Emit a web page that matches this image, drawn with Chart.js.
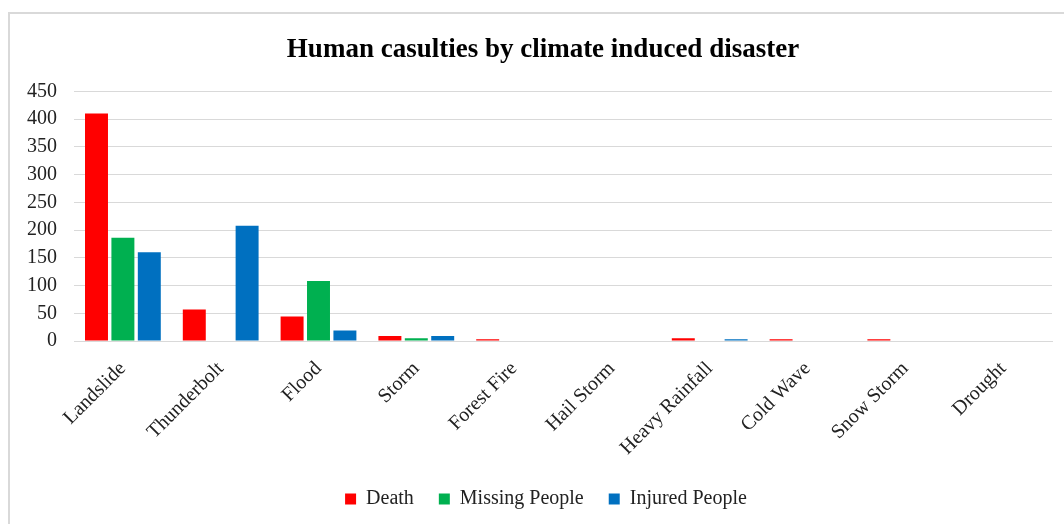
<!DOCTYPE html>
<html>
<head>
<meta charset="utf-8">
<script src="https://cdn.jsdelivr.net/npm/chart.js@4.4.1/dist/chart.umd.min.js"></script>
<style>
  html, body { margin: 0; padding: 0; background: #ffffff; }
  #wrap { position: relative; width: 1064px; height: 524px; overflow: hidden; }
  #frame { position: absolute; left: 8px; top: 12px; width: 1200px; height: 700px;
           border: 2px solid #d9d9d9; box-sizing: border-box; }
  #c { position: absolute; left: 0; top: 0; }
</style>
</head>
<body>
<div id="wrap">
  <div id="frame"></div>
  <canvas id="c" width="1064" height="524"></canvas>
</div>
<script>
// Disaster categories and casualty counts per series
const categories = ['Landslide', 'Thunderbolt', 'Flood', 'Storm', 'Forest Fire',
                    'Hail Storm', 'Heavy Rainfall', 'Cold Wave', 'Snow Storm', 'Drought'];
const deaths   = [410, 57, 44, 9, 3, 0, 5, 3, 3, 0];
const missing  = [186, 0, 108, 5, 0, 0, 0, 0, 0, 0];
const injured  = [160, 208, 19, 9, 0, 0, 3, 0, 0, 0];
const yTicks   = [0, 50, 100, 150, 200, 250, 300, 350, 400, 450];

const FONT = "'Liberation Serif', 'Times New Roman', serif";
const GRID = '#d9d9d9';

const barOpts = { categoryPercentage: 0.81, barPercentage: 0.87, borderWidth: 0 };

// Nudge the title and legend a little to the right of the canvas centre
const centreShift = {
  id: 'centreShift',
  afterLayout(chart) {
    if (chart.titleBlock) { chart.titleBlock.left += 12; chart.titleBlock.right += 12; }
    if (chart.legend) { chart.legend.left += 15; chart.legend.right += 15; }
  }
};

new Chart(document.getElementById('c'), {
  type: 'bar',
  data: {
    labels: categories,
    datasets: [
      Object.assign({ label: 'Death', data: deaths, backgroundColor: '#ff0000' }, barOpts),
      Object.assign({ label: 'Missing People', data: missing, backgroundColor: '#00b050' }, barOpts),
      Object.assign({ label: 'Injured People', data: injured, backgroundColor: '#0070c0' }, barOpts)
    ]
  },
  plugins: [centreShift],
  options: {
    responsive: false,
    animation: false,
    devicePixelRatio: 1,
    layout: { padding: { top: 34, left: 10, right: 12, bottom: 5 } },
    plugins: {
      title: {
        display: true,
        text: 'Human casulties by climate induced disaster',
        color: '#000000',
        font: { family: FONT, size: 27, weight: 'bold' },
        padding: { top: 0, bottom: 25 }
      },
      legend: {
        display: true,
        position: 'bottom',
        labels: {
          color: '#222222',
          font: { family: FONT, size: 20 },
          boxWidth: 11,
          boxHeight: 11,
          padding: 25
        }
      },
      tooltip: { enabled: false }
    },
    scales: {
      x: {
        grid: { display: false, drawTicks: false },
        border: { display: true, color: GRID, width: 1 },
        ticks: {
          color: '#222222',
          font: { family: FONT, size: 20 },
          minRotation: 45,
          maxRotation: 45,
          autoSkip: false,
          padding: 16
        },
        afterFit: (s) => { s.height = 123; }
      },
      y: {
        min: 0,
        max: 450,
        afterBuildTicks: (s) => { s.ticks = yTicks.map(v => ({ value: v })); },
        grid: { color: GRID, lineWidth: 1, drawTicks: false },
        border: { display: false },
        ticks: {
          color: '#222222',
          font: { family: FONT, size: 20 },
          autoSkip: false,
          padding: 17
        },
        afterFit: (s) => { s.width = 64; }
      }
    }
  }
});
</script>
</body>
</html>
